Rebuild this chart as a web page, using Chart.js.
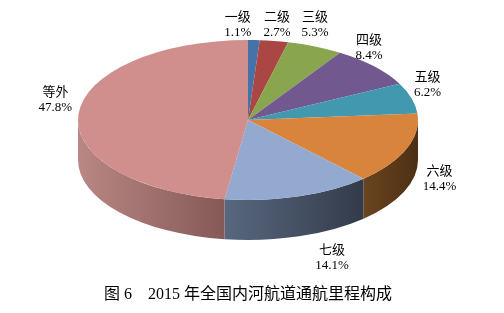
<!DOCTYPE html>
<html>
<head>
<meta charset="utf-8">
<script src="https://cdn.jsdelivr.net/npm/chart.js@4.4.0/dist/chart.umd.min.js"></script>
<style>
  html, body { margin: 0; padding: 0; background: #fff; }
  #wrap { width: 504px; height: 313px; }
</style>
</head>
<body>
<div id="wrap"><canvas id="Chart" width="504" height="313"></canvas></div>
<script>
// Categories
var grades = ['一级', '二级', '三级', '四级', '五级', '六级', '七级', '等外'];
// Share of navigable mileage (%)
var shares = [1.1, 2.7, 5.3, 8.4, 6.2, 14.4, 14.1, 47.8];
// Caption
var caption = '图 6　2015 年全国内河航道通航里程构成';

// Top face colours
var topColors = ['#4572a7', '#aa4643', '#89a54e', '#71588f', '#4198af', '#d8843c', '#93a9cf', '#d08e8c'];
// Side wall colours, left -> right
var sideColors = [
  ['#2f4f75', '#223a57'], ['#7a3230', '#5a2523'], ['#617536', '#485728'], ['#503e66', '#3a2d4a'],
  ['#2e6b7b', '#214e5a'], ['#6a4420', '#4c3014'], ['#58677f', '#333b4a'], ['#b98784', '#855957']
];
// Label nudge from the rim midpoint (px)
var labelShift = [[-16, -15], [3, -16], [0, -21], [-5, -18], [16, -13], [33, 30], [33, 62], [-23, -14]];

var squashX = 1.7, squashY = 0.8, depth = 40;
var labelFont = '13px "Liberation Serif", "Noto Sans CJK SC", serif';
var captionFont = '16px "Liberation Serif", "Noto Sans CJK SC", serif';

// ----------------------------------- 3D plugin -------------------------------------------
var pie3d = {
  id: 'pie3d',
  beforeDatasetsDraw: function(chart) {
    var ctx = chart.ctx;
    var meta = chart.getDatasetMeta(0);
    var cx = meta.data[0].x, cy = meta.data[0].y, r = meta.data[0].outerRadius;
    var rx = r * squashX, ry = r * squashY;
    // front walls
    meta.data.forEach(function(arc, i) {
      var a1 = Math.max(arc.startAngle, 0), a2 = Math.min(arc.endAngle, Math.PI);
      if (a2 <= a1) return;
      var g = ctx.createLinearGradient(cx + rx * Math.cos(a2), 0, cx + rx * Math.cos(a1), 0);
      g.addColorStop(0, sideColors[i][0]);
      g.addColorStop(1, sideColors[i][1]);
      ctx.beginPath();
      ctx.ellipse(cx, cy, rx, ry, 0, a1, a2);
      ctx.ellipse(cx, cy + depth, rx, ry, 0, a2, a1, true);
      ctx.closePath();
      ctx.fillStyle = g;
      ctx.fill();
    });
    // squash the top face
    ctx.save();
    ctx.translate(cx, cy);
    ctx.scale(squashX, squashY);
    ctx.translate(-cx, -cy);
  },
  afterDatasetsDraw: function(chart) {
    var ctx = chart.ctx;
    ctx.restore();
    var meta = chart.getDatasetMeta(0);
    var cx = meta.data[0].x, cy = meta.data[0].y, r = meta.data[0].outerRadius;
    var rx = r * squashX, ry = r * squashY;
    ctx.save();
    ctx.font = labelFont;
    ctx.fillStyle = '#000';
    ctx.textAlign = 'center';
    ctx.textBaseline = 'middle';
    meta.data.forEach(function(arc, i) {
      var mid = (arc.startAngle + arc.endAngle) / 2;
      var x = cx + rx * Math.cos(mid) + labelShift[i][0];
      var y = cy + ry * Math.sin(mid) + labelShift[i][1];
      ctx.fillText(grades[i], x, y - 7.5);
      ctx.fillText(shares[i].toFixed(1) + '%', x, y + 7.5);
    });
    // caption under the pie
    ctx.font = captionFont;
    ctx.fillText(caption, cx, 295);
    ctx.restore();
  }
};

// ----------------------------------- Chart.js -------------------------------------------
var chart = document.getElementById('Chart');
var myChart = new Chart(chart, {
  type: 'pie',
  data: {
    labels: grades,
    datasets: [{
      data: shares,
      backgroundColor: topColors,
      borderWidth: 0,
      clip: false
    }]
  },
  options: {
    responsive: false,
    animation: false,
    layout: { padding: { left: 148, right: 156, top: 20, bottom: 93 } },
    plugins: {
      legend: { display: false },
      tooltip: { enabled: false },
      title: { display: false }
    }
  },
  plugins: [pie3d]
});
</script>
</body>
</html>
